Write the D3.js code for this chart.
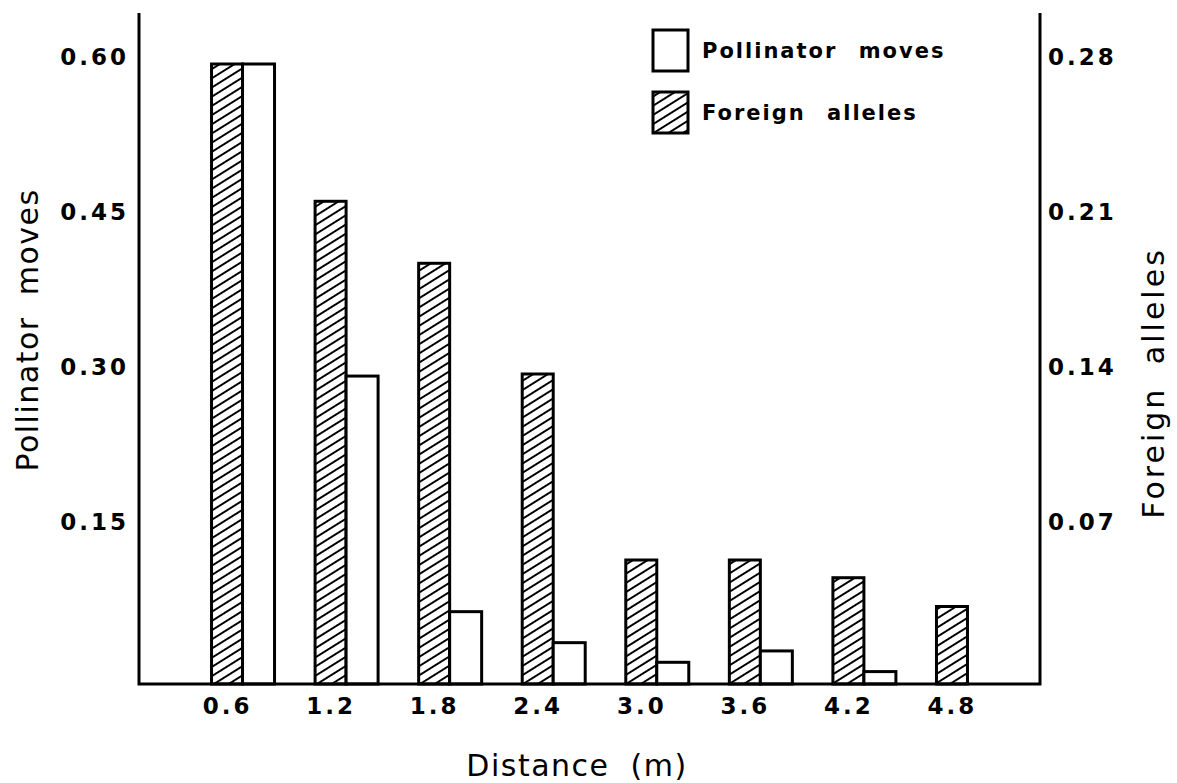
<!DOCTYPE html>
<html>
<head>
<meta charset="utf-8">
<script src="https://cdn.jsdelivr.net/npm/d3@7"></script>
<style>
  body { margin: 0; background: #fff; }
  svg { display: block; font-family: 'DejaVu Sans', sans-serif; }
  .title { font-size: 30px; letter-spacing: 1.5px; word-spacing: 10px; fill: #000; }
  .legend text { font-size: 21px; font-weight: bold; letter-spacing: 2px; word-spacing: 12px; fill: #000; }
</style>
</head>
<body>
<svg id="chart"></svg>
<script>
const distances = ['0.6', '1.2', '1.8', '2.4', '3.0', '3.6', '4.2', '4.8'];
const pollinatorMoves = [0.600, 0.298, 0.070, 0.040, 0.021, 0.032, 0.012, 0.0];
const foreignAlleles = [0.280, 0.218, 0.190, 0.140, 0.056, 0.056, 0.048, 0.035];
const leftTicks = [0.15, 0.30, 0.45, 0.60];
const rightTicks = [0.07, 0.14, 0.21, 0.28];

const W = 1177, H = 783;
const margin = { top: 64, right: 137, bottom: 99, left: 139 };
const width = W - margin.left - margin.right;
const height = H - margin.top - margin.bottom;

const svg = d3.select('#chart').attr('width', W).attr('height', H);

// diagonal hatching
const defs = svg.append('defs');
defs.append('pattern')
  .attr('id', 'hatch')
  .attr('patternUnits', 'userSpaceOnUse')
  .attr('width', 12)
  .attr('height', 7.8)
  .attr('patternTransform', 'rotate(-32)')
  .append('line')
  .attr('x1', 0).attr('x2', 12)
  .attr('y1', 3.9).attr('y2', 3.9)
  .attr('stroke', '#000')
  .attr('stroke-width', 2);

const g = svg.append('g').attr('transform', `translate(${margin.left},${margin.top})`);

const x = d3.scalePoint().domain(distances).range([0, width]).padding(0.85);
const y = d3.scaleLinear().domain([0, 0.6]).range([height, 0]);
const y2 = d3.scaleLinear().domain([0, 0.28]).range([height, 0]);

const hatchW = 31, openW = 32;

// foreign alleles (hatched, right axis)
g.selectAll('.bar-fa')
  .data(foreignAlleles)
  .enter().append('rect')
  .attr('class', 'bar-fa')
  .attr('x', (d, i) => x(distances[i]) - hatchW / 2)
  .attr('y', (d) => y2(d))
  .attr('width', hatchW)
  .attr('height', (d) => height - y2(d))
  .attr('fill', 'url(#hatch)')
  .attr('stroke', '#000')
  .attr('stroke-width', 3);

// pollinator moves (open, left axis)
g.selectAll('.bar-pm')
  .data(pollinatorMoves)
  .enter().append('rect')
  .attr('class', 'bar-pm')
  .attr('x', (d, i) => x(distances[i]) + hatchW / 2)
  .attr('y', (d) => y(d))
  .attr('width', openW)
  .attr('height', (d) => height - y(d))
  .attr('fill', '#fff')
  .attr('stroke', '#000')
  .attr('stroke-width', 3);

// axes
function styleTicks(sel) {
  sel.select('.domain').remove();
  sel.attr('font-family', null).attr('font-size', null);
  sel.selectAll('text')
    .style('font-size', '23px')
    .style('font-weight', 'bold')
    .style('letter-spacing', '3px')
    .attr('fill', '#000');
}

const axisTop = -51;
const leftAxis = g.append('g')
  .call(d3.axisLeft(y).tickValues(leftTicks).tickFormat(d3.format('.2f')).tickSize(0).tickPadding(10))
  .call(styleTicks);
leftAxis.selectAll('text').attr('y', -7);

const rightAxis = g.append('g')
  .attr('transform', `translate(${width},0)`)
  .call(d3.axisRight(y2).tickValues(rightTicks).tickFormat(d3.format('.2f')).tickSize(0).tickPadding(8))
  .call(styleTicks);
rightAxis.selectAll('text').attr('y', -7);

g.append('g')
  .attr('transform', `translate(0,${height})`)
  .call(d3.axisBottom(x).tickSize(0).tickPadding(14))
  .call(styleTicks);

g.append('path')
  .attr('d', `M0,${axisTop}V${height}H${width}V${axisTop}`)
  .attr('fill', 'none')
  .attr('stroke', '#000')
  .attr('stroke-width', 3);

// titles
svg.append('text')
  .attr('class', 'title')
  .attr('transform', `translate(38,330) rotate(-90)`)
  .attr('text-anchor', 'middle')
  .text('Pollinator moves');

svg.append('text')
  .attr('class', 'title')
  .attr('transform', `translate(1164,383) rotate(-90)`)
  .attr('text-anchor', 'middle')
  .style('letter-spacing', '3px')
  .text('Foreign alleles');

svg.append('text')
  .attr('class', 'title')
  .attr('x', 577)
  .attr('y', 776)
  .attr('text-anchor', 'middle')
  .text('Distance (m)');

// legend
const legend = svg.append('g').attr('class', 'legend').attr('transform', 'translate(653,30)');
const legendItems = [
  { label: 'Pollinator moves', fill: '#fff' },
  { label: 'Foreign alleles', fill: 'url(#hatch)' }
];
const item = legend.selectAll('g')
  .data(legendItems)
  .enter().append('g')
  .attr('transform', (d, i) => `translate(0,${i * 62})`);
item.append('rect')
  .attr('width', 35)
  .attr('height', 41)
  .attr('fill', (d) => d.fill)
  .attr('stroke', '#000')
  .attr('stroke-width', 3);
item.append('text')
  .attr('x', 49)
  .attr('y', 21)
  .attr('dy', '0.35em')
  .text((d) => d.label);
</script>
</body>
</html>
